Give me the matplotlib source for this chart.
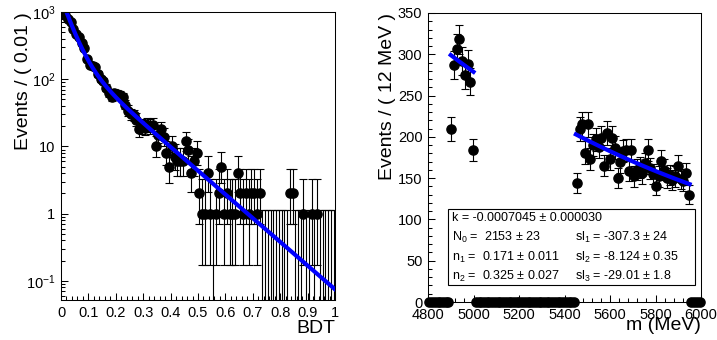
import math
import numpy as np
import matplotlib
matplotlib.use("Agg")
import matplotlib.pyplot as plt
from matplotlib.ticker import MultipleLocator, FuncFormatter, LogLocator, NullFormatter
from matplotlib.patches import Rectangle

plt.rcParams['font.family'] = ['Liberation Sans', 'DejaVu Sans']
plt.rcParams['mathtext.fontset'] = 'custom'
plt.rcParams['mathtext.rm'] = 'Liberation Sans'
plt.rcParams['mathtext.it'] = 'Liberation Sans:italic'

# --- BDT histogram (100 bins from 0 to 1) ---
bdt_edges = np.linspace(0, 1, 101)
bdt_counts = [980, 900, 800, 700, 560, 470, 420, 350, 290, 200,
              165, 160, 150, 120, 100, 95, 75, 62, 55, 62,
              60, 58, 55, 42, 34, 30, 29, 25, 18, 20,
              19, 21, 20, 21, 10, 15, 18, 14, 8, 5,
              10, 7, 6, 6, 6, 12, 9, 4, 6, 8,
              2, 1, 1, 4, 1, 0, 1, 2, 5, 1,
              2, 1, 1, 1, 4, 2, 1, 2, 1, 2,
              2, 1, 2, 0, 0, 0, 0, 0, 0, 0,
              0, 0, 0, 2, 2, 0, 0, 0, 1, 0,
              0, 1, 0, 1, 0, 0, 0, 0, 0, 0]

# fit curve on BDT: two exponentials (slopes sl3, sl2 from the fit box)
core_amp = 1402.0
core_slope = -29.01
tail_amp = 253.0
tail_slope = -8.124

# --- mass histogram (100 bins of 12 MeV from 4800 to 6000) ---
m_edges = np.linspace(4800, 6000, 101)
m_counts = ([0] * 8 +
            [210, 287, 307, 318, 292, 275, 288, 267, 184] +
            [0] * 37 +
            [144, 209, 215, 181, 215, 173, 190, 197, 188, 199,
             165, 205, 173, 199, 187, 150, 169, 183, 184, 159,
             184, 152, 160, 163, 156, 168, 184, 162, 155, 141,
             152, 171, 160, 150, 154, 148, 152, 165, 149, 146,
             156, 130] +
            [0] * 4)

m_k = -0.0007045
m_norm = 203.0      # curve value at m_ref
m_ref = 5450.0
m_ranges = [(4900, 5000), (5450, 5950)]

fit_rows = [(r"k = -0.0007045 ± 0.000030", None),
            (r"N$_0$ =  2153 ± 23", r"sl$_1$ = -307.3 ± 24"),
            (r"n$_1$ =  0.171 ± 0.011", r"sl$_2$ = -8.124 ± 0.35"),
            (r"n$_2$ =  0.325 ± 0.027", r"sl$_3$ = -29.01 ± 1.8")]

ALPHA = 1 - 0.6827
FIT_BLUE = '#0000ff'


def pois_cdf(n, mu):
    if mu <= 0:
        return 1.0
    return sum(math.exp(k * math.log(mu) - mu - math.lgamma(k + 1)) for k in range(n + 1))


def bisect(f, lo, hi):
    # f > 0 -> szukamy dalej w prawo
    for _ in range(60):
        mid = 0.5 * (lo + hi)
        if f(mid) > 0:
            lo = mid
        else:
            hi = mid
    return 0.5 * (lo + hi)


def poisson_errors(counts):
    # przedzialy Poissona jak w RooFit (Garwood), sqrt dla duzych n
    lo, hi = [], []
    for n in counts:
        if n == 0:
            lo.append(0.0)
            hi.append(-math.log(ALPHA))
        elif n > 100:
            lo.append(math.sqrt(n))
            hi.append(math.sqrt(n))
        else:
            top = n + 10 * math.sqrt(n) + 10
            up = bisect(lambda mu: pois_cdf(n, mu) - ALPHA / 2, n, top)
            dn = bisect(lambda mu: ALPHA / 2 - (1 - pois_cdf(n - 1, mu)), 0, n)
            lo.append(n - dn)
            hi.append(up - n)
    return np.array(lo), np.array(hi)


def style_axes(ax):
    ax.tick_params(which='both', direction='in', top=False, right=False,
                   labelsize=10.5, width=0.75, pad=4)
    ax.tick_params(which='major', length=5)
    ax.tick_params(which='minor', length=2.6)
    for s in ax.spines.values():
        s.set_linewidth(0.75)


def log_label(v, pos):
    e = int(round(math.log10(v)))
    if e == 0:
        return "1"
    if e == 1:
        return "10"
    return r"$\mathdefault{10^{%d}}$" % e


def draw_bdt(ax):
    x = 0.5 * (bdt_edges[:-1] + bdt_edges[1:])
    y = np.array(bdt_counts, dtype=float)
    lo, hi = poisson_errors(bdt_counts)
    ax.set_yscale('log')
    ax.errorbar(x, np.where(y > 0, y, np.nan), yerr=[lo, hi], fmt='none', ecolor='black',
                elinewidth=0.8, capsize=3.2, capthick=0.8)
    # puste biny: kreska od dolu do 1.15
    zero = y == 0
    ax.vlines(x[zero], 1e-3, hi[zero], color='black', lw=0.8)
    ax.hlines(hi[zero], x[zero] - 0.016, x[zero] + 0.016, color='black', lw=0.8)
    ax.plot(x, np.where(y > 0, y, np.nan), 'o', color='black', ms=6.6)

    xs = np.linspace(0, 1, 400)
    ax.plot(xs, core_amp * np.exp(core_slope * xs) + tail_amp * np.exp(tail_slope * xs),
            color=FIT_BLUE, lw=3)

    ax.set_xlim(0, 1)
    ax.set_ylim(0.052, 1000)
    ax.xaxis.set_major_locator(MultipleLocator(0.1))
    ax.xaxis.set_minor_locator(MultipleLocator(0.02))
    ax.xaxis.set_major_formatter(FuncFormatter(lambda v, p: "%g" % round(v, 2)))
    ax.yaxis.set_major_locator(LogLocator(base=10))
    ax.yaxis.set_minor_locator(LogLocator(base=10, subs=np.arange(2, 10)))
    ax.yaxis.set_major_formatter(FuncFormatter(log_label))
    ax.yaxis.set_minor_formatter(NullFormatter())
    style_axes(ax)
    ax.set_ylabel("Events / ( 0.01 )", fontsize=14, loc='top')
    ax.yaxis.set_label_coords(-0.105, 1.0)
    ax.set_xlabel("BDT", fontsize=14, loc='right')
    ax.xaxis.set_label_coords(1.0, -0.068)


def draw_mass(ax):
    x = 0.5 * (m_edges[:-1] + m_edges[1:])
    y = np.array(m_counts, dtype=float)
    lo, hi = poisson_errors(m_counts)
    ax.errorbar(x, y, yerr=[lo, hi], fmt='o', color='black', ms=6.6,
                elinewidth=0.8, capsize=3.2, capthick=0.8, clip_on=False, zorder=3)
    for a, b in m_ranges:
        xs = np.linspace(a, b, 100)
        ax.plot(xs, m_norm * np.exp(m_k * (xs - m_ref)), color=FIT_BLUE, lw=3, zorder=4)

    ax.set_xlim(4800, 6000)
    ax.set_ylim(0, 350)
    ax.xaxis.set_major_locator(MultipleLocator(200))
    ax.xaxis.set_minor_locator(MultipleLocator(40))
    ax.yaxis.set_major_locator(MultipleLocator(50))
    ax.yaxis.set_minor_locator(MultipleLocator(10))
    style_axes(ax)
    ax.set_ylabel("Events / ( 12 MeV )", fontsize=14, loc='top')
    ax.yaxis.set_label_coords(-0.117, 1.0)
    ax.set_xlabel("m (MeV)", fontsize=14, loc='right')
    ax.xaxis.set_label_coords(1.0, -0.052)

    # ramka z parametrami fitu
    ax.add_patch(Rectangle((0.073, 0.059), 0.905, 0.262, transform=ax.transAxes,
                           facecolor='white', edgecolor='black', lw=0.8, zorder=5))
    row_y = [0.290, 0.222, 0.155, 0.088]
    for (left, right), yy in zip(fit_rows, row_y):
        ax.text(0.087, yy, left, transform=ax.transAxes, fontsize=9, va='center', zorder=6)
        if right:
            ax.text(0.538, yy, right, transform=ax.transAxes, fontsize=9, va='center', zorder=6)


def main():
    fig = plt.figure(figsize=(7.17, 3.40), dpi=100)
    ax1 = fig.add_axes([61 / 717, 40 / 340, 274 / 717, 288 / 340])
    ax2 = fig.add_axes([428 / 717, 38 / 340, 273 / 717, 289 / 340])
    draw_bdt(ax1)
    draw_mass(ax2)
    fig.savefig("out.png", dpi=100)


if __name__ == "__main__":
    main()
